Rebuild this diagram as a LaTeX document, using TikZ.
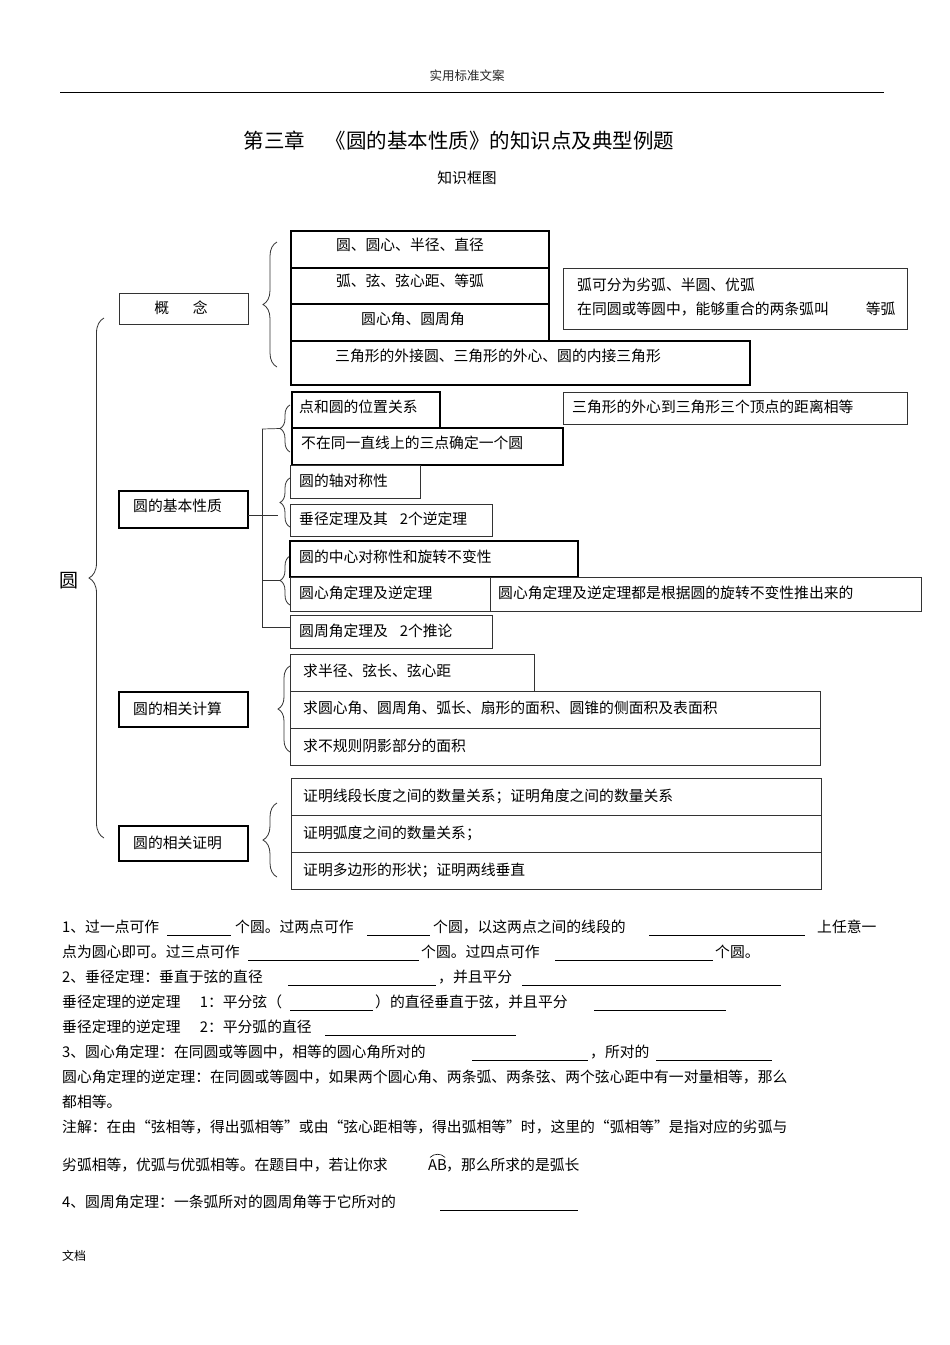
\documentclass[tikz,border=0pt]{standalone}
\usepackage{fontspec}
\setmainfont{Noto Sans CJK SC}
\usetikzlibrary{decorations.pathreplacing}
\newcommand\mkbox[6]{\node[#1, minimum width={(#5)-(#3)}, minimum height={(#6)-(#4)}] (#2) at ({((#3)+(#5))/2},{((#4)+(#6))/2}) {};}
\begin{document}
\begin{tikzpicture}[x=1pt,y=-1pt,
  bxn/.style={draw=black!80, line width=0.7pt, inner sep=0pt, outer sep=0pt},
  bxt/.style={draw=black!45, double=black, double distance=1.1pt, line width=0.5pt, inner sep=0pt, outer sep=0pt},
  txt/.style={inner sep=0pt, anchor=west, font=\fontsize{14.8}{17}\selectfont},
  txtc/.style={inner sep=0pt, font=\fontsize{14.8}{17}\selectfont},
  ln/.style={draw=black!80, line width=0.7pt},
  brc/.style={draw=black!80, line width=0.8pt, decorate, decoration={brace, amplitude=#1pt}},
  blank/.style={draw=black, line width=0.6pt},
]
\fill[white] (0,0) rectangle (950,1345);
\useasboundingbox (0,0) rectangle (950,1345);

% header
\node[inner sep=0pt, font=\fontsize{12.5}{14}\selectfont, text=black!85] (hdr) at (467,76) {实用标准文案};
\draw[line width=0.8pt] (60,92) -- (884,92);
\node[inner sep=0pt, font=\fontsize{20.5}{24}\selectfont] (title) at (459,141) {第三章\hspace{1em}《圆的基本性质》的知识点及典型例题};
\node[txtc] (sub) at (467,178) {知识框图};

% big brace
\draw[brc=15] (104,838) -- (104,318);
\node[inner sep=0pt, font=\fontsize{19}{22}\selectfont] (yuan) at (69,581) {圆};

% concept
\mkbox{bxn}{gn}{119}{293}{248}{324}
\node[txtc] (gnt) at (181,308) {概\hspace{1.6em}念};
\draw[brc=14] (277,367) -- (277,242);
\mkbox{bxt}{c1}{291}{231}{549}{268}
\mkbox{bxt}{c2}{291}{268}{549}{304}
\mkbox{bxt}{c3}{291}{304}{549}{341}
\mkbox{bxt}{c4}{291}{341}{750}{385}
\node[txtc] (c1t) at (410,245) {圆、圆心、半径、直径};
\node[txtc] (c2t) at (410,281) {弧、弦、弦心距、等弧};
\node[txtc] (c3t) at (413,319) {圆心角、圆周角};
\node[txt] (c4t) at (335,356) {三角形的外接圆、三角形的外心、圆的内接三角形};
\mkbox{bxn}{hd}{563}{268}{907}{329}
\node[txt] (hdt1) at (577,285) {弧可分为劣弧、半圆、优弧};
\node[txt] (hdt2) at (577,309) {在同圆或等圆中，能够重合的两条弧叫\hspace{2.5em}等弧};

% basic properties
\mkbox{bxt}{jb}{119}{491}{248}{528}
\node[txt] (jbt) at (133,506) {圆的基本性质};
\draw[brc=10] (290,452) -- (290,405);
\draw[brc=10] (290,527) -- (290,478);
\draw[brc=10] (290,605) -- (290,556);
\coordinate (j1) at (262,429);
\coordinate (j2) at (262,580.5);
\coordinate (j3) at (262,627);
\coordinate (b1) at (280,428.5);
\coordinate (b3) at (280,580.5);
\mkbox{bxt}{p1}{292}{392}{440}{428}
\mkbox{bxt}{p2}{292}{428}{563}{465}
\mkbox{bxn}{p3}{290}{465}{420}{498}
\mkbox{bxn}{p4}{290}{504}{492}{536}
\mkbox{bxt}{p5}{290}{541}{578}{577}
\mkbox{bxn}{p6}{290}{577}{490}{611}
\mkbox{bxn}{p7}{490}{577}{921}{611}
\mkbox{bxn}{p8}{290}{615}{492}{648}
\mkbox{bxn}{p9}{563}{392}{907}{424}
\draw[ln] (j1) -- (b1);
\draw[ln] (j1) -- (j3);
\draw[ln] (j2) -- (b3);
\draw[ln] (j3) -- (j3 -| p8.west);
\draw[ln] ([yshift=-6pt]jb.east) -- ++(30,0);
\node[txt] (p1t) at (299,407) {点和圆的位置关系};
\node[txt] (p2t) at (301,443) {不在同一直线上的三点确定一个圆};
\node[txt] (p3t) at (299,481) {圆的轴对称性};
\node[txt] (p4t) at (299,519) {垂径定理及其\hspace{0.8em}2个逆定理};
\node[txt] (p5t) at (299,557) {圆的中心对称性和旋转不变性};
\node[txt] (p6t) at (299,593) {圆心角定理及逆定理};
\node[txt] (p7t) at (498,593) {圆心角定理及逆定理都是根据圆的旋转不变性推出来的};
\node[txt] (p8t) at (299,631) {圆周角定理及\hspace{0.8em}2个推论};
\node[txt] (p9t) at (572,407) {三角形的外心到三角形三个顶点的距离相等};

% calculations
\mkbox{bxt}{js}{119}{692}{248}{727}
\node[txt] (jst) at (133,709) {圆的相关计算};
\draw[brc=12] (290,752) -- (290,666);
\mkbox{bxn}{q1}{290}{654}{534}{691}
\mkbox{bxn}{q2}{290}{691}{820}{728}
\mkbox{bxn}{q3}{290}{728}{820}{765}
\node[txt] (q1t) at (303,671) {求半径、弦长、弦心距};
\node[txt] (q2t) at (303,708) {求圆心角、圆周角、弧长、扇形的面积、圆锥的侧面积及表面积};
\node[txt] (q3t) at (303,746) {求不规则阴影部分的面积};

% proofs
\mkbox{bxt}{zm}{119}{826}{248}{861}
\node[txt] (zmt) at (133,843) {圆的相关证明};
\draw[brc=14] (277,877) -- (277,803);
\mkbox{bxn}{r1}{291}{778}{821}{815}
\mkbox{bxn}{r2}{291}{815}{821}{852}
\mkbox{bxn}{r3}{291}{852}{821}{889}
\node[txt] (r1t) at (303,796) {证明线段长度之间的数量关系；证明角度之间的数量关系};
\node[txt] (r2t) at (303,833) {证明弧度之间的数量关系；};
\node[txt] (r3t) at (303,870) {证明多边形的形状；证明两线垂直};

% lower text
\node[txt] (l1a) at (62,927) {1、过一点可作};
\draw[blank] (167,935) -- (231,935);
\node[txt] (l1b) at (235,927) {个圆。过两点可作};
\draw[blank] (367,935) -- (430,935);
\node[txt] (l1c) at (433,927) {个圆，以这两点之间的线段的};
\draw[blank] (649,935) -- (805,935);
\node[txt] (l1d) at (817,927) {上任意一};

\node[txt] (l2a) at (62,952) {点为圆心即可。过三点可作};
\draw[blank] (248,960) -- (419,960);
\node[txt] (l2b) at (421,952) {个圆。过四点可作};
\draw[blank] (555,960) -- (713,960);
\node[txt] (l2c) at (715,952) {个圆。};

\node[txt] (l3a) at (62,977) {2、垂径定理：垂直于弦的直径};
\draw[blank] (288,985) -- (436,985);
\node[txt] (l3b) at (438,977) {，并且平分};
\draw[blank] (522,985) -- (781,985);

\node[txt] (l4a) at (62,1002) {垂径定理的逆定理\hspace{1.3em}1：平分弦（};
\draw[blank] (290,1010) -- (373,1010);
\node[txt] (l4b) at (375,1002) {）的直径垂直于弦，并且平分};
\draw[blank] (594,1010) -- (726,1010);

\node[txt] (l5a) at (62,1027) {垂径定理的逆定理\hspace{1.3em}2：平分弧的直径};
\draw[blank] (325,1035) -- (516,1035);

\node[txt] (l6a) at (62,1052) {3、圆心角定理：在同圆或等圆中，相等的圆心角所对的};
\draw[blank] (472,1060) -- (588,1060);
\node[txt] (l6b) at (590,1052) {，所对的};
\draw[blank] (656,1060) -- (772,1060);

\node[txt] (l7) at (62,1077) {圆心角定理的逆定理：在同圆或等圆中，如果两个圆心角、两条弧、两条弦、两个弦心距中有一对量相等，那么};
\node[txt] (l8) at (62,1102) {都相等。};
\node[txt] (l9) at (62,1127) {注解：在由“弦相等，得出弧相等”或由“弦心距相等，得出弧相等”时，这里的“弧相等”是指对应的劣弧与};
\node[txt] (l10a) at (62,1165) {劣弧相等，优弧与优弧相等。在题目中，若让你求};
\node[txt] (ab) at (428,1165) {AB};
\draw[line width=0.6pt] ([xshift=2pt,yshift=2pt]ab.north west) to[bend left=45] ([xshift=-2pt,yshift=2pt]ab.north east);
\node[txt] (l10b) at (446,1165) {，那么所求的是弧长};
\node[txt] (l11) at (62,1202) {4、圆周角定理：一条弧所对的圆周角等于它所对的};
\draw[blank] (440,1210) -- (578,1210);

% footer
\node[inner sep=0pt, anchor=west, font=\fontsize{12}{14}\selectfont] (ftr) at (62,1256) {文档};
\end{tikzpicture}
\end{document}
